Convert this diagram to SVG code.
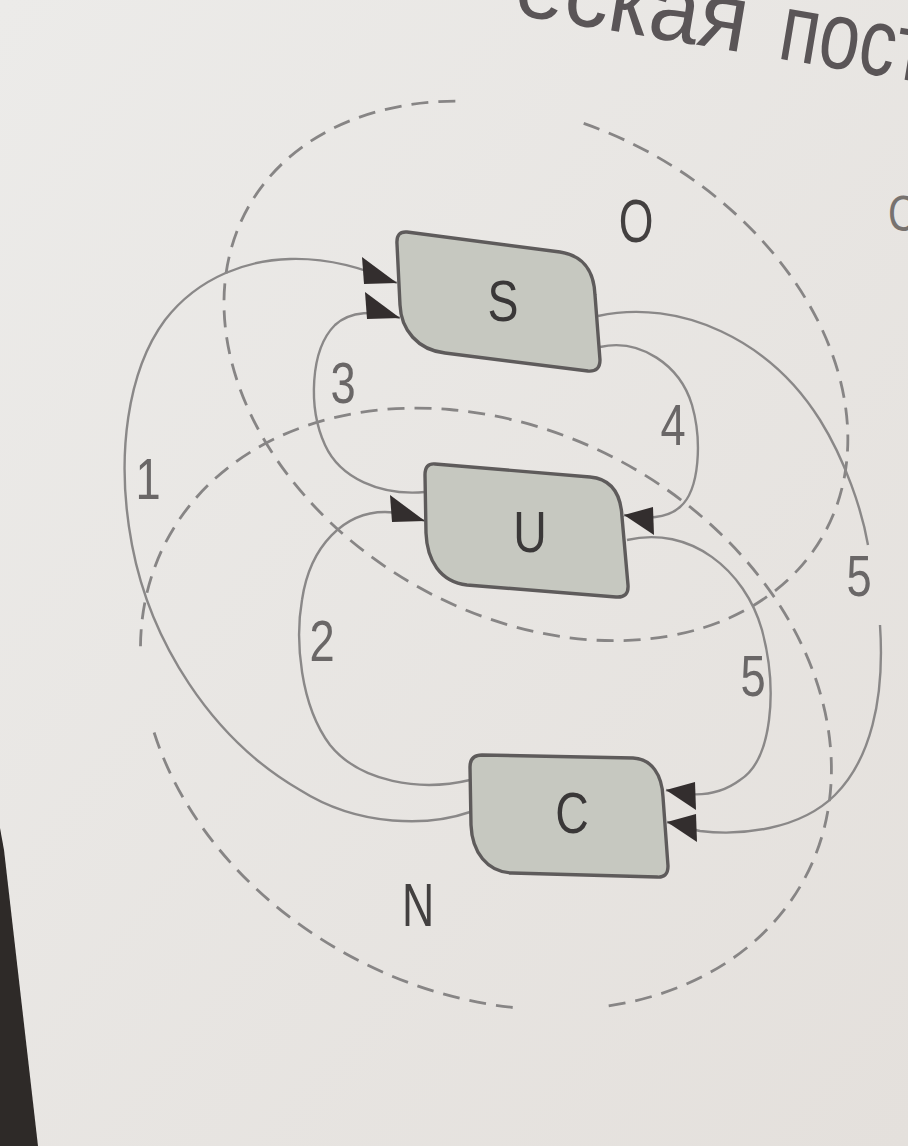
<svg xmlns="http://www.w3.org/2000/svg" width="908" height="1146" viewBox="0 0 908 1146">
  <defs>
    <linearGradient id="bg" x1="0" y1="0" x2="1" y2="1">
      <stop offset="0" stop-color="#ecebe9"/>
      <stop offset="1" stop-color="#e4e0dc"/>
    </linearGradient>
    <marker id="ahR" markerUnits="userSpaceOnUse" markerWidth="80" markerHeight="60" viewBox="-40 -30 80 60" refX="0" refY="0" orient="0" overflow="visible">
      <path d="M0,0 L-35,-26 L-33,1 Z" fill="#332e2e"/>
    </marker>
    <marker id="ahL" markerUnits="userSpaceOnUse" markerWidth="80" markerHeight="60" viewBox="-40 -30 80 60" refX="0" refY="0" orient="0" overflow="visible">
      <path d="M0,0 L29,-8 L30,20 Z" fill="#332e2e"/>
    </marker>
    <style>
      .region { fill: none; stroke: #878585; stroke-width: 2.8; stroke-dasharray: 17 10; }
      .edge { fill: none; stroke: #8a8888; stroke-width: 2.4; }
      .node { fill: #c6c8c0; stroke: #5e5b5b; stroke-width: 3.4; }
      .nlabel { font-family: "Liberation Sans", Arial, sans-serif; font-size: 58px; fill: #3a3838; text-anchor: middle; }
      .elabel { font-family: "Liberation Sans", Arial, sans-serif; font-size: 58px; fill: #6a6767; text-anchor: middle; }
      .rlabel { font-family: "Liberation Sans", Arial, sans-serif; font-size: 62px; fill: #434040; text-anchor: middle; }
      .title { font-family: "Liberation Sans", Arial, sans-serif; font-size: 96px; fill: #5a5557; }
    </style>
  </defs>

  <rect x="0" y="0" width="908" height="1146" fill="url(#bg)"/>
  <polygon points="0,828 4,850 38,1146 0,1146" fill="#2e2a28"/>

  <g id="title">
    <g transform="translate(512,14) rotate(9.5)">
      <text class="title" x="0" y="0" textLength="234" lengthAdjust="spacingAndGlyphs">еская</text>
      <text class="title" x="268" y="0" textLength="150" lengthAdjust="spacingAndGlyphs">пост</text>
    </g>
    <text class="title" transform="translate(888,231) scale(0.8,1)" style="font-size:50px;fill:#77726f">С</text>
  </g>

  <g id="region-O">
    <path class="region" d="M 583.7,123.4 A 331 246 30 1 1 462.5,101.2"/>
    <text class="rlabel" transform="translate(636,242) scale(0.72,1)">O</text>
  </g>
  <g id="region-N">
    <path class="region" d="M 512.7,1007.5 A 361 282 27.7 0 1 153.4,730.3 M 140.5,646.2 A 361 282 27.7 1 1 598.9,1007.2"/>
    <text class="rlabel" transform="translate(418,926) scale(0.72,1)">N</text>
  </g>

  <g id="connectors">
    <path id="e1" class="edge" d="M 470,812 C 430,826 360,828 300,790 C 210,738 150,640 132,545 C 115,455 128,370 165,320 C 200,275 250,260 290,259 C 325,258 360,266 397,283" marker-end="url(#ahR)"/>
    <path id="e2" class="edge" d="M 470,780 C 420,792 360,782 330,745 C 300,705 295,640 302,600 C 310,545 345,512 385,512 C 400,512 412,516 425,521" marker-end="url(#ahR)"/>
    <path id="e3" class="edge" d="M 425,492 C 380,496 340,478 325,445 C 308,408 310,350 335,325 C 350,311 375,310 400,318" marker-end="url(#ahR)"/>
    <path id="e4" class="edge" d="M 600,347 C 640,338 680,365 692,405 C 702,440 700,490 680,507 C 668,518 645,520 624,515" marker-end="url(#ahL)"/>
    <path id="e5a" class="edge" d="M 627,540 C 690,525 745,570 762,630 C 778,690 772,760 740,780 C 720,795 695,798 666,790" marker-end="url(#ahL)"/>
    <path id="e5b-1" class="edge" d="M 598,316 C 680,298 770,340 820,420 C 845,460 862,510 868,545"/>
    <path id="e5b-2" class="edge" d="M 880,625 C 885,700 870,760 835,795 C 800,830 740,836 700,831 C 690,829 679,826 667,822" marker-end="url(#ahL)"/>
    <text class="elabel" transform="translate(148,499) scale(0.78,1)">1</text>
    <text class="elabel" transform="translate(322,661) scale(0.78,1)">2</text>
    <text class="elabel" transform="translate(343,403) scale(0.78,1)">3</text>
    <text class="elabel" transform="translate(673,445) scale(0.78,1)">4</text>
    <text class="elabel" transform="translate(753,696) scale(0.78,1)">5</text>
    <text class="elabel" transform="translate(859,596) scale(0.78,1)">5</text>
  </g>

  <g id="node-S">
    <path class="node" d="M 407,232 L 560,252 C 585,256 594,272 595,295 L 600,360 Q 600,372 588,371 L 445,353 C 418,350 401,330 400,305 L 397,244 Q 396,231 407,232 Z"/>
    <text class="nlabel" transform="translate(503,321) scale(0.8,1)">S</text>
  </g>
  <g id="node-U">
    <path class="node" d="M 435,464 L 590,477 C 612,479 621,495 622,517 L 628,585 Q 629,598 616,597 L 467,585 C 440,582 427,560 426,533 L 425,475 Q 425,463 435,464 Z"/>
    <text class="nlabel" transform="translate(530,552) scale(0.8,1)">U</text>
  </g>
  <g id="node-C">
    <path class="node" d="M 482,755 L 633,758 C 652,759 662,775 663,797 L 668,866 Q 668,878 657,877 L 512,873 C 487,872 472,852 471,825 L 470,767 Q 470,755 482,755 Z"/>
    <text class="nlabel" transform="translate(572,833) scale(0.8,1)">C</text>
  </g>
</svg>
